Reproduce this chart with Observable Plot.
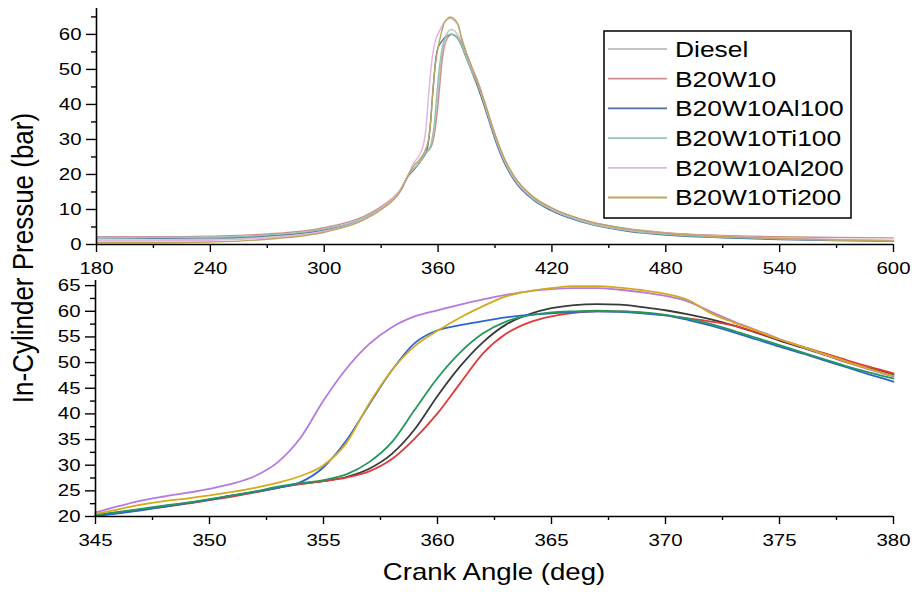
<!DOCTYPE html>
<html><head><meta charset="utf-8">
<script src="https://cdn.jsdelivr.net/npm/d3@7"></script>
<script src="https://cdn.jsdelivr.net/npm/@observablehq/plot@0.6"></script>
<style>
body{margin:0;background:#fff;}
#wrap{position:relative;width:916px;height:592px;overflow:hidden;background:#fff;font-family:"Liberation Sans",Arial,sans-serif;}
#wrap svg{position:absolute;left:0;}
</style></head><body><div id="wrap"></div>
<script>
// ---------- data ----------
const series = ["Diesel","B20W10","B20W10Al100","B20W10Ti100","B20W10Al200","B20W10Ti200"];
const fadedColors = ["#c4c4c4","#cf8f8f","#4d6f9c","#93c6b4","#e2b2e2","#bea45c"];
const strongColors = ["#3a3a3a","#e03a3a","#2a66d0","#23985a","#b57ae0","#d6a91c"];

// full-cycle panel, outside the zoom window
const lowAngles  = [180,210,240,270,300,320,330,340];
const dieselLow  = [1.3,1.3,1.5,2.2,4.0,7.0,10.0,15.0];
const b20w10Low  = [2.2,2.2,2.4,3.0,4.8,7.8,10.8,15.6];
const al100Low   = [1.9,1.8,1.9,2.5,4.2,7.2,10.3,15.3];
const ti100Low   = [2.0,2.0,2.1,2.7,4.4,7.4,10.5,15.4];
const al200Low   = [1.0,1.0,1.2,1.9,3.8,7.0,10.3,15.6];
const ti200Low   = [0.5,0.5,0.7,1.5,3.5,6.8,10.0,15.2];

const highAngles = [385,390,395,400,410,420,440,460,480,510,540,570,600];
const dieselHigh = [39.5,31.0,24.0,19.0,13.2,10.0,6.1,4.1,3.0,2.2,1.7,1.4,1.2];
const b20w10High = [40.0,31.5,24.5,19.5,13.7,10.4,6.5,4.5,3.4,2.6,2.2,2.0,1.9];
const al100High  = [38.5,30.0,23.2,18.4,12.8,9.6,5.8,3.8,2.7,1.9,1.4,1.1,0.9];
const ti100High  = [39.2,30.7,23.8,18.8,13.1,9.9,6.0,4.0,2.9,2.1,1.6,1.3,1.1];
const al200High  = [39.6,31.2,24.2,19.2,13.4,10.2,6.3,4.3,3.2,2.4,1.8,1.4,1.1];
const ti200High  = [39.8,31.4,24.5,19.5,13.6,10.4,6.5,4.4,3.2,2.3,1.7,1.3,1.0];

// zoom window 345-380 deg
const zoomAngles = [345,346,347,348,349,350,351,352,353,354,355,356,357,358,359,360,361,362,363,364,365,366,367,368,369,370,371,372,373,374,375,376,377,378,379,380];
const dieselZoom = [20.2,20.8,21.4,22.0,22.6,23.3,24.0,24.8,25.7,26.4,26.9,27.7,29.3,32.2,37.0,43.5,49.3,54.0,57.4,59.4,60.6,61.2,61.4,61.3,60.8,60.2,59.4,58.4,57.2,55.8,54.3,52.9,51.5,50.0,48.8,47.7];
const b20w10Zoom = [20.1,20.7,21.3,21.9,22.5,23.2,23.9,24.7,25.6,26.3,26.9,27.6,28.8,31.2,35.2,40.1,46.0,51.8,55.6,57.8,59.0,59.7,60.0,60.0,59.7,59.2,58.6,58.0,57.2,55.9,54.5,53.1,51.8,50.4,49.1,47.9];
const al100Zoom  = [20.1,20.6,21.2,21.9,22.6,23.3,24.1,24.8,25.6,26.7,29.6,34.8,41.8,48.5,53.8,56.3,57.3,58.1,58.8,59.3,59.6,59.9,60.0,59.9,59.6,59.2,58.3,57.2,55.9,54.5,53.1,51.8,50.4,49.0,47.6,46.3];
const ti100Zoom  = [20.3,20.9,21.5,22.1,22.7,23.4,24.1,24.9,25.8,26.5,27.1,28.2,30.6,34.5,40.8,47.0,52.0,55.7,58.0,59.2,59.8,60.0,60.1,60.0,59.8,59.3,58.5,57.5,56.2,54.8,53.4,52.0,50.6,49.2,48.0,46.9];
const al200Zoom  = [20.8,22.0,23.1,23.9,24.6,25.4,26.4,27.9,30.6,35.4,42.6,48.8,53.6,56.9,59.0,60.2,61.3,62.3,63.2,63.9,64.3,64.5,64.5,64.2,63.7,63.0,61.9,59.9,58.0,56.3,54.6,53.0,51.5,50.0,48.6,47.3];
const ti200Zoom  = [20.5,21.4,22.3,23.0,23.5,24.1,24.8,25.6,26.6,27.9,30.0,34.3,42.0,48.5,53.2,56.2,58.8,61.0,62.9,63.9,64.5,64.9,64.9,64.6,64.1,63.4,62.2,59.6,57.8,56.2,54.5,53.1,51.6,50.1,48.7,47.4];

// ticks
const topXMajor = [180,240,300,360,420,480,540,600];
const topXMinor = [210,270,330,390,450,510,570];
const topYMajor = [0,10,20,30,40,50,60];
const topYMinor = [5,15,25,35,45,55,65];
const botXMajor = [345,350,355,360,365,370,375,380];
const botXMinor = [347.5,352.5,357.5,362.5,367.5,372.5,377.5];
const botYMajor = [20,25,30,35,40,45,50,55,60,65];
const botYMinor = [22.5,27.5,32.5,37.5,42.5,47.5,52.5,57.5,62.5];

// ---------- build tables ----------
const lowVals  = [dieselLow,b20w10Low,al100Low,ti100Low,al200Low,ti200Low];
const highVals = [dieselHigh,b20w10High,al100High,ti100High,al200High,ti200High];
const zoomVals = [dieselZoom,b20w10Zoom,al100Zoom,ti100Zoom,al200Zoom,ti200Zoom];
const topData = [], zoomData = [];
series.forEach((s,i)=>{
  lowAngles.forEach((a,j)=>topData.push({series:s,angle:a,p:lowVals[i][j]}));
  zoomAngles.forEach((a,j)=>{topData.push({series:s,angle:a,p:zoomVals[i][j]}); zoomData.push({series:s,angle:a,p:zoomVals[i][j]});});
  highAngles.forEach((a,j)=>topData.push({series:s,angle:a,p:highVals[i][j]}));
});

const FONT = "Liberation Sans, Arial, sans-serif";
const wrap = document.getElementById("wrap");
function stretch(svg){
  svg.querySelectorAll("text").forEach(t=>{
    const tr = t.getAttribute("transform");
    if (tr) t.setAttribute("transform", tr + " scale(1.2,1)");
  });
}
const fmt = d => String(d);
const blank = () => "";

const topPlot = Plot.plot({
  width: 916, height: 282, marginLeft: 96, marginRight: 23, marginTop: 8, marginBottom: 38,
  style: {background: "transparent", fontFamily: FONT, fontSize: "17px", color: "#000", overflow: "visible"},
  x: {domain: [180, 600]},
  y: {domain: [0, 67.4]},
  color: {domain: series, range: fadedColors},
  marks: [
    Plot.axisX({ticks: topXMajor, tickSize: 8, tickPadding: 9, tickFormat: fmt, label: null, strokeWidth: 1.4}),
    Plot.axisX({ticks: topXMinor, tickSize: 4, tickFormat: blank, label: null, strokeWidth: 1.4}),
    Plot.axisY({ticks: topYMajor, tickSize: 10, tickPadding: 5, tickFormat: fmt, label: null, strokeWidth: 1.4}),
    Plot.axisY({ticks: topYMinor, tickSize: 5, tickFormat: blank, label: null, strokeWidth: 1.4}),
    Plot.line(topData, {x: "angle", y: "p", z: "series", stroke: "series", curve: "monotone-x", strokeWidth: 1.4}),
    Plot.ruleY([0], {strokeWidth: 1.6}),
    Plot.ruleX([180], {strokeWidth: 1.6})
  ]
});
topPlot.style.top = "0px";
stretch(topPlot);

const botPlot = Plot.plot({
  width: 916, height: 324, marginLeft: 95, marginRight: 23, marginTop: 12, marginBottom: 76,
  style: {background: "transparent", fontFamily: FONT, fontSize: "17px", color: "#000", overflow: "visible"},
  x: {domain: [345, 380]},
  y: {domain: [20, 66]},
  color: {domain: series, range: strongColors},
  marks: [
    Plot.axisX({ticks: botXMajor, tickSize: 8, tickPadding: 9, tickFormat: fmt, label: null, strokeWidth: 1.4}),
    Plot.axisX({ticks: botXMinor, tickSize: 4, tickFormat: blank, label: null, strokeWidth: 1.4}),
    Plot.axisY({ticks: botYMajor, tickSize: 10, tickPadding: 5, tickFormat: fmt, label: null, strokeWidth: 1.4}),
    Plot.axisY({ticks: botYMinor, tickSize: 5, tickFormat: blank, label: null, strokeWidth: 1.4}),
    Plot.line(zoomData, {x: "angle", y: "p", z: "series", stroke: "series", curve: "monotone-x", strokeWidth: 1.8}),
    Plot.ruleY([20], {strokeWidth: 1.6}),
    Plot.ruleX([345], {strokeWidth: 1.6})
  ]
});
botPlot.style.top = "268px";
stretch(botPlot);

wrap.appendChild(botPlot);
wrap.appendChild(topPlot);

// ---------- titles and legend ----------
const ov = d3.create("svg").attr("width", 916).attr("height", 592)
  .style("top", "0px").style("pointer-events", "none").style("font-family", FONT);
ov.append("text").attr("transform", "translate(494,580) scale(1.2,1)")
  .attr("text-anchor", "middle").attr("font-size", 23).attr("fill", "#000").text("Crank Angle (deg)");
ov.append("text").attr("transform", "translate(22,258) rotate(-90) scale(1,1.15)")
  .attr("text-anchor", "middle").attr("dy", "0.36em").attr("font-size", 26).attr("fill", "#000").text("In-Cylinder Pressue (bar)");
const lg = ov.append("g");
lg.append("rect").attr("x", 604).attr("y", 31).attr("width", 247).attr("height", 187)
  .attr("fill", "#fff").attr("stroke", "#000").attr("stroke-width", 1.5);
series.forEach((s, i) => {
  const y = 49 + i * 29.7;
  lg.append("line").attr("x1", 608).attr("x2", 667).attr("y1", y).attr("y2", y)
    .attr("stroke", fadedColors[i]).attr("stroke-width", 1.8);
  lg.append("text").attr("transform", `translate(675,${y}) scale(1.2,1)`)
    .attr("dy", "0.36em").attr("font-size", 22).attr("fill", "#000").text(s);
});
wrap.appendChild(ov.node());
</script>
</body></html>
